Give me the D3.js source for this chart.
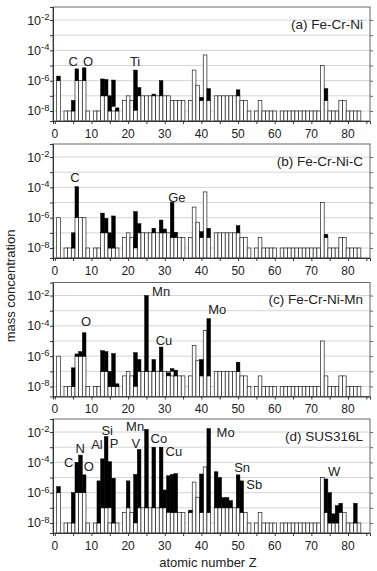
<!DOCTYPE html>
<html><head><meta charset="utf-8">
<script src="https://cdn.jsdelivr.net/npm/d3@7"></script>
<style>body{margin:0;background:#fff} svg{display:block;font-family:"Liberation Sans",Arial,Helvetica,sans-serif}</style>
</head><body><svg id="c" width="377" height="571"></svg>
<script>
// atomic numbers 1..83
const atomicNumbers = d3.range(1, 84);
// white bars: detection limit (same for all four samples); null = element not measured
const detectionLimit = [
 1e-6, null, 1e-8, 1e-8, 1e-8, 1e-6, 1e-6, 1e-6, 1e-8, null,      // 1-10
 1e-8, 1e-8, 1e-7, 1e-7, 1e-8, 1e-8, 1e-8, null, 5e-8, 1e-7,      // 11-20
 5e-8, 5e-8, 1e-7, 1e-7, 1e-7, 1e-7, 1e-7, 1e-7, 1e-7, 1e-7,      // 21-30
 1e-7, 5e-8, 5e-8, 5e-8, 5e-8, null, 5e-8, 5e-6, 5e-7, 5e-8,      // 31-40
 5e-5, 5e-8, null, 1e-7, 1e-7, 1e-7, 1e-7, 1e-7, 1e-7, 1e-7,      // 41-50
 5e-8, 5e-8, 1e-8, null, 1e-8, 5e-8, 1e-8, 1e-8, 1e-8, 1e-8,      // 51-60
 null, 1e-8, 1e-8, 1e-8, 1e-8, 1e-8, 1e-8, 1e-8, 1e-8, 1e-8,      // 61-70
 1e-8, 1e-8, 1e-5, 5e-8, 1e-8, 1e-8, 1e-8, 5e-8, 5e-8, 1e-8,      // 71-80
 1e-8, 1e-8, 1e-8                                                 // 81-83
];
// black bars: measured range [Z, low, high]
const measuredA = [[1,1e-6,2e-6],[5,1e-8,5e-8],[6,1e-6,6e-6],[8,1e-6,7e-6],[13,1e-7,1.3e-6],[14,1e-7,1.2e-6],
 [15,1e-8,1e-7],[16,2e-8,1.1e-6],[17,1e-8,1.6e-8],[22,1.1e-8,5e-6],[23,1e-7,3.5e-7],[27,1e-7,1.3e-7],[29,1e-7,1e-6],
 [40,5e-8,8e-8],[42,5e-8,3e-7],[50,1e-7,2.5e-7],[74,5e-8,3e-7]];
const measuredB = [[5,1e-8,1e-7],[6,1e-6,1.1e-4],[13,1e-7,2e-6],[14,1e-7,9e-7],[15,1e-8,1e-7],[16,1e-8,1.3e-6],
 [22,1e-8,2.5e-6],[23,1e-7,4e-7],[27,1e-7,2e-7],[29,1e-7,7e-7],[30,1e-7,1.8e-7],[32,5e-8,1e-5],[33,5e-8,1.1e-7],
 [40,5e-8,1.2e-7],[42,5e-8,2e-7],[50,1e-7,3e-7],[74,5e-8,8e-8]];
const measuredC = [[5,1e-8,1.7e-7],[6,1e-6,1.4e-6],[7,1e-6,2e-6],[8,1e-6,3.5e-5],[13,1e-7,2.3e-6],[14,1e-7,2e-6],
 [15,1e-8,1e-7],[16,1e-8,1.5e-6],[17,1e-8,1.5e-8],[22,1e-8,1.7e-6],[23,1e-7,6e-7],[25,1e-7,1e-2],[27,1e-7,6e-7],
 [29,1e-7,4e-6],[31,5e-8,8e-8],[32,1e-7,1.5e-7],[33,5e-8,1.2e-7],[40,5e-8,6e-7],[42,5e-8,3e-4],[50,1e-7,4e-7]];
const measuredD = [[1,1e-6,2.5e-6],[5,1e-8,1e-6],[6,1e-6,1e-4],[7,1e-6,3e-4],[8,1e-6,1.5e-5],[12,1e-8,6e-6],
 [13,1e-7,1.7e-4],[14,1e-7,5e-3],[15,1e-7,1.1e-4],[16,1e-8,9e-6],[20,1e-7,6e-6],[22,1e-8,1.6e-5],[23,1e-7,7e-4],
 [25,1e-7,1.5e-2],[27,1e-7,1e-3],[29,1e-7,1e-3],[30,1e-7,1.5e-6],[31,5e-8,1.3e-5],[32,5e-8,1.6e-5],[33,5e-8,1.8e-5],
 [37,5e-8,7e-8],[40,5e-8,1.7e-5],[42,5e-8,1.7e-2],[44,1e-7,2.4e-5],[45,1e-7,1e-5],[46,1e-7,4.7e-7],[47,1e-7,4.7e-7],
 [48,1e-7,3e-7],[50,1e-7,1.5e-5],[51,5e-8,6e-6],[74,5e-8,8e-6],[75,1e-8,1e-6],[76,1e-8,4e-8],[77,1e-8,1.4e-7],
 [78,5e-8,2e-7],[82,1e-8,2e-7]];
// element annotations [text, Z position, concentration position]
const labelsA = [["C",5.0,10**-4.72],["O",9.1,10**-4.72],["Ti",21.9,10**-4.72]];
const labelsB = [["C",5.5,10**-3.37],["Ge",33.3,10**-4.63]];
const labelsC = [["O",8.5,10**-3.73],["Mn",29.0,10**-1.73],["Cu",29.8,10**-4.98],["Mo",44.3,10**-2.93]];
const labelsD = [["C",3.8,10**-4.0],["N",6.9,10**-3.08],["O",9.3,10**-4.27],["Al",11.5,10**-2.81],["Si",14.3,10**-1.89],
 ["P",16.2,10**-2.75],["Mn",21.9,10**-1.62],["V",22.1,10**-2.75],["Co",28.4,10**-2.42],["Cu",32.5,10**-3.28],
 ["Mo",46.6,10**-2.02],["Sn",51.1,10**-4.34],["Sb",54.4,10**-5.47],["W",76.2,10**-4.6]];
const panelTitles = ["(a) Fe-Cr-Ni","(b) Fe-Cr-Ni-C","(c) Fe-Cr-Ni-Mn","(d) SUS316L"];
const yTickExponents = [-8,-7,-6,-5,-4,-3,-2];
const yLabelExponents = [-8,-6,-4,-2];
const xTicks = d3.range(0, 86, 5);
const xLabels = [0,10,20,30,40,50,60,70,80];

const svg = d3.select("#c");
const panelTops = [7, 144, 282.5, 419];
const H = 114, L = 53, R = 370;
const x = d3.scaleLinear().domain([-0.5, 86]).range([L, R]);
const panels = [
  {m: measuredA, lab: labelsA},
  {m: measuredB, lab: labelsB},
  {m: measuredC, lab: labelsC},
  {m: measuredD, lab: labelsD}
];
const whiteData = atomicNumbers.map((z,i)=>({z, v: detectionLimit[i]})).filter(d=>d.v!=null);

panels.forEach((p, k) => {
  const top = panelTops[k], bot = top + H;
  const y = d3.scaleLog().domain([10**-8.66, 10**-1.14]).range([bot, top]);
  const g = svg.append("g");
  // gridlines
  g.selectAll("line.grid").data(yTickExponents).join("line")
    .attr("x1", L).attr("x2", R).attr("y1", e=>y(10**e)).attr("y2", e=>y(10**e))
    .attr("stroke", "#d4d4d4").attr("stroke-width", 1);
  // white bars
  g.selectAll("rect.w").data(whiteData).join("rect")
    .attr("x", d=>x(d.z-0.5)).attr("width", d=>x(d.z+0.5)-x(d.z-0.5))
    .attr("y", d=>y(d.v)).attr("height", d=>bot-y(d.v))
    .attr("fill", "#fff").attr("stroke", "#222").attr("stroke-width", 0.7);
  // black bars
  g.selectAll("rect.b").data(p.m).join("rect")
    .attr("x", d=>x(d[0]-0.5)).attr("width", d=>x(d[0]+0.5)-x(d[0]-0.5))
    .attr("y", d=>y(d[2])).attr("height", d=>y(d[1])-y(d[2]))
    .attr("fill", "#000").attr("stroke", "#000").attr("stroke-width", 0.5);
  // frame
  g.append("rect").attr("x", L).attr("y", top).attr("width", R-L).attr("height", H)
    .attr("fill", "none").attr("stroke", "#666").attr("stroke-width", 1);
  // left axis
  const ax = d3.axisLeft(y).tickValues(yTickExponents.map(e=>10**e)).tickSize(3).tickFormat("");
  const ga = g.append("g").attr("transform", `translate(${L},0)`).call(ax);
  ga.select(".domain").attr("stroke", "#333");
  ga.selectAll(".tick line").attr("stroke", "#333");
  // right ticks
  const ar = d3.axisRight(y).tickValues(yTickExponents.map(e=>10**e)).tickSize(3).tickFormat("");
  const gr = g.append("g").attr("transform", `translate(${R},0)`).call(ar);
  gr.select(".domain").remove();
  gr.selectAll(".tick line").attr("stroke", "#666");
  // y labels 10^e
  const yl = g.selectAll("text.yl").data(yLabelExponents).join("text")
    .attr("x", 49.5).attr("y", e=>y(10**e)+4.5).attr("text-anchor","end")
    .attr("font-size", 12.5).attr("fill", "#222");
  yl.append("tspan").text("10");
  yl.append("tspan").attr("dy", -4.5).attr("font-size", 9.5).text(e=>"-"+(-e));
  // bottom axis
  const bx = d3.axisBottom(x).tickValues(xTicks).tickSize(3).tickFormat("");
  const gb = g.append("g").attr("transform", `translate(0,${bot})`).call(bx);
  gb.select(".domain").attr("stroke", "#333");
  gb.selectAll(".tick line").attr("stroke", "#333");
  g.selectAll("text.xl").data(xLabels).join("text")
    .attr("x", d=>x(d)).attr("y", bot+16.5).attr("text-anchor","middle")
    .attr("font-size", 12).attr("fill", "#222").text(d=>d);
  // panel title
  g.append("text").attr("x", 363).attr("y", top+21.5).attr("text-anchor","end")
    .attr("font-size", 13.5).attr("fill", "#222").text(panelTitles[k]);
  // element labels
  g.selectAll("text.el").data(p.lab).join("text")
    .attr("x", d=>x(d[1])).attr("y", d=>y(d[2])).attr("dy", "0.36em").attr("text-anchor","middle")
    .attr("font-size", 13).attr("fill", "#222").text(d=>d[0]);
});

svg.append("text").attr("transform","translate(10,286) rotate(-90)").attr("text-anchor","middle")
  .attr("dy","0.35em").attr("font-size", 13).attr("fill","#222").text("mass concentration");
svg.append("text").attr("x", 208).attr("y", 562).attr("dy","0.35em").attr("text-anchor","middle")
  .attr("font-size", 13).attr("fill","#222").text("atomic number Z");
</script></body></html>
